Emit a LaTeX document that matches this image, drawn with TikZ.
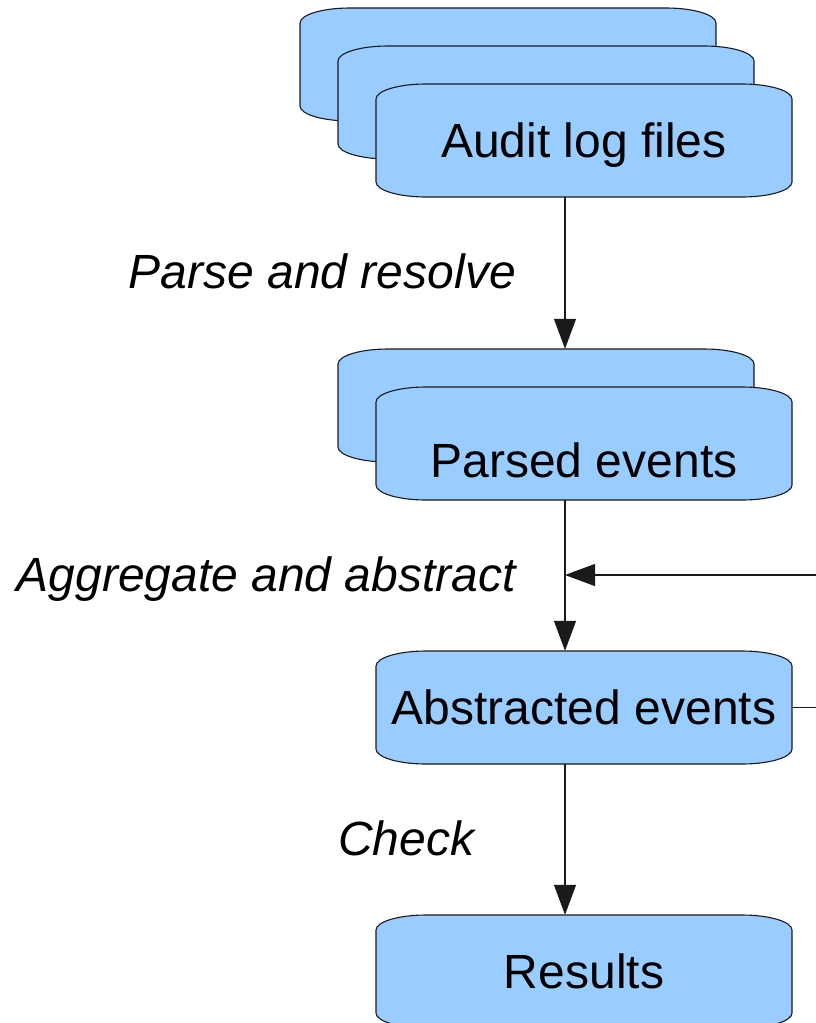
\documentclass[tikz,border=0pt]{standalone}
\usepackage{fontspec}
\setmainfont{Liberation Sans}
\usetikzlibrary{arrows.meta}
\definecolor{cardblue}{HTML}{99CCFF}
\definecolor{edge}{HTML}{1A1A1A}
\newcommand\cardshape[2]{%
  \begin{scope}[shift={(#1,#2)}]
    \filldraw[cardline] (0,15) .. controls (0,6.72) and (22.4,0) .. (50,0)
      -- (366,0) .. controls (393.6,0) and (416,6.72) .. (416,15)
      -- (416,98) .. controls (416,106.28) and (393.6,113) .. (366,113)
      -- (50,113) .. controls (22.4,113) and (0,106.28) .. (0,98) -- cycle;
  \end{scope}}
\tikzset{
  cardline/.style={fill=cardblue, draw=edge, line width=1.1pt},
  cardnode/.style={minimum width=416pt, minimum height=113pt, inner sep=0pt,
    text height=34.4pt, text depth=0pt, font=\fontsize{48pt}{58pt}\selectfont},
  steplabel/.style={inner sep=0pt, font=\fontsize{48pt}{58pt}\selectfont\itshape},
  conn/.style={draw=edge, line width=1.1pt, -{Triangle[length=30pt,width=22pt]}},
  plainline/.style={draw=edge, line width=1.1pt},
}
\begin{document}
\begin{tikzpicture}[x=1pt,y=-1pt]
\useasboundingbox (0,0) rectangle (816,1023);
\clip (0,0) rectangle (816,1023);
% Audit log files stack
\cardshape{300}{8}
\cardshape{338}{46}
\cardshape{376}{84}
\node[cardnode] (audit) at (584,140.5) {Audit log files};
% Parsed events stack
\cardshape{338}{349}
\node[cardnode] (parsedback) at (546,405.5) {};
\cardshape{376}{387}
\node[cardnode] (parsed) at (584,443.5) {\raisebox{-17pt}{Parsed events}};
% Abstracted events
\cardshape{376}{651}
\node[cardnode] (abstracted) at (584,707.5) {Abstracted events};
% Results
\cardshape{376}{915}
\node[cardnode] (results) at (584,971.5) {Results};
% connectors
\draw[conn] ([xshift=-19pt]audit.south) -- ([xshift=19pt]parsedback.north);
\draw[conn] ([xshift=-19pt]parsed.south) -- ([xshift=-19pt]abstracted.north);
\draw[conn] ([xshift=-19pt]abstracted.south) -- ([xshift=-19pt]results.north);
\coordinate (feedin) at (816,575);
\coordinate (join) at (565,575);
\draw[conn] (feedin) -- (join);
\coordinate (feedout) at (816,707.5);
\draw[plainline] (abstracted.east) -- (feedout);
% labels
\node[steplabel, anchor=base east] (l1) at (516,288) {Parse and resolve};
\node[steplabel, anchor=base east] (l2) at (516,591) {Aggregate and abstract};
\node[steplabel, anchor=base west] (l3) at (338,855) {Check};
\end{tikzpicture}
\end{document}
